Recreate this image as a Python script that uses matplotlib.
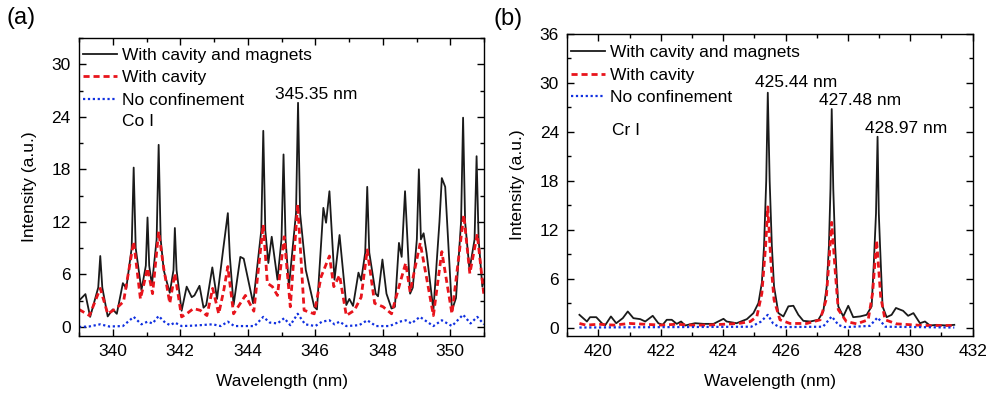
import matplotlib
matplotlib.use("Agg")
import matplotlib.pyplot as plt
from matplotlib.ticker import MultipleLocator

plt.rcParams['font.family'] = ['Liberation Sans', 'DejaVu Sans']

# panel (a) Co I
co_wl_mag = [339.0, 339.19, 339.33, 339.57, 339.63, 339.69, 339.85, 340.0, 340.12, 340.3, 340.4, 340.56, 340.62, 340.68,
             340.85, 340.98, 341.03, 341.08, 341.16, 341.3, 341.36, 341.42, 341.51, 341.59, 341.69, 341.8, 341.84, 341.89,
             342.04, 342.19, 342.34, 342.42, 342.57, 342.69, 342.77, 342.95, 343.09, 343.27, 343.41, 343.47, 343.58,
             343.78, 343.88, 344.16, 344.4, 344.46, 344.52, 344.61, 344.71, 344.88, 345.0, 345.06, 345.12, 345.22,
             345.43, 345.49, 345.55, 345.72, 345.97, 346.05, 346.24, 346.32, 346.42, 346.57, 346.72, 346.92, 347.01,
             347.12, 347.28, 347.36, 347.48, 347.54, 347.6, 347.79, 347.86, 347.99, 348.11, 348.26, 348.36, 348.48,
             348.56, 348.66, 348.81, 348.89, 349.01, 349.07, 349.13, 349.21, 349.3, 349.5, 349.68, 349.75, 349.85,
             350.05, 350.17, 350.32, 350.38, 350.44, 350.57, 350.72, 350.78, 350.84, 350.95, 351.0]
co_mag = [3.0, 3.75, 1.15, 4.5, 8.1, 4.5, 1.2, 2.0, 1.5, 5.0, 4.4, 9.0, 18.2, 9.0,
          4.2, 7.0, 12.5, 7.0, 4.8, 10.0, 20.8, 10.0, 6.5, 5.3, 3.9, 6.5, 11.3, 6.5,
          1.85, 4.6, 3.4, 3.6, 4.7, 2.2, 2.5, 6.8, 3.2, 8.8, 13.0, 8.0, 2.5,
          8.0, 7.8, 2.7, 11.0, 22.4, 11.0, 7.3, 10.3, 5.4, 10.0, 19.7, 10.0, 4.6,
          13.0, 25.6, 13.0, 6.5, 2.3, 2.0, 13.6, 11.9, 15.5, 5.4, 10.5, 2.5, 3.2,
          2.4, 6.2, 5.3, 8.5, 16.0, 8.5, 3.8, 3.5, 7.7, 3.8, 2.1, 2.3, 9.6,
          8.0, 15.5, 3.8, 4.5, 10.0, 18.0, 10.0, 10.7, 8.4, 1.9, 12.0, 17.0, 16.0,
          1.9, 3.3, 12.0, 23.9, 12.0, 6.5, 10.0, 19.5, 10.0, 4.6, 5.4]

co_wl_cav = [339.0, 339.31, 339.63, 339.85, 340.1, 340.32, 340.62, 340.82, 341.03, 341.18, 341.36, 341.51, 341.69,
             341.84, 342.04, 342.19, 342.39, 342.59, 342.79, 342.96, 343.14, 343.29, 343.41, 343.58, 343.78, 343.93,
             344.18, 344.46, 344.58, 344.73, 344.88, 345.08, 345.26, 345.48, 345.67, 345.97, 346.17, 346.42, 346.55,
             346.72, 346.92, 347.16, 347.36, 347.54, 347.76, 348.01, 348.26, 348.51, 348.68, 348.81, 349.11, 349.5,
             349.75, 350.05, 350.4, 350.58, 350.8, 351.0]
co_cav = [2.0, 1.3, 4.4, 1.5, 2.1, 2.9, 9.75, 3.2, 6.7, 3.8, 10.9, 6.7, 2.7,
          6.1, 1.15, 1.5, 2.1, 1.9, 1.3, 4.4, 1.5, 4.2, 6.9, 1.5, 2.7, 3.6,
          1.8, 11.7, 5.0, 4.6, 3.6, 10.3, 2.3, 14.0, 1.9, 1.5, 5.7, 8.1, 4.6,
          5.9, 1.3, 1.9, 3.4, 8.8, 2.7, 2.3, 1.5, 5.0, 7.3, 4.0, 9.6, 1.3,
          8.6, 1.5, 12.8, 6.1, 10.6, 3.5]

co_wl_none = [339.0, 339.3, 339.63, 339.9, 340.3, 340.62, 340.85, 341.03, 341.18, 341.36, 341.55, 341.7, 341.84, 342.04,
              342.4, 342.96, 343.2, 343.41, 343.6, 344.2, 344.46, 344.65, 344.88, 345.08, 345.26, 345.48, 345.7, 346.0,
              346.2, 346.42, 346.57, 346.72, 346.92, 347.3, 347.54, 347.8, 348.2, 348.5, 348.68, 348.85, 349.1, 349.5,
              349.75, 350.05, 350.38, 350.6, 350.8, 351.0]
co_none = [0.0, 0.05, 0.3, 0.05, 0.1, 1.15, 0.3, 0.6, 0.4, 1.25, 0.5, 0.2, 0.5, 0.1,
           0.15, 0.3, 0.1, 0.6, 0.1, 0.1, 1.15, 0.5, 0.4, 1.0, 0.2, 1.5, 0.3, 0.1,
           0.6, 0.76, 0.3, 0.6, 0.1, 0.2, 0.76, 0.1, 0.1, 0.6, 0.76, 0.4, 1.15, 0.1,
           0.76, 0.1, 1.4, 0.4, 1.15, 0.3]

# panel (b) Cr I
cr_wl_mag = [419.39, 419.63, 419.73, 419.93, 420.11, 420.21, 420.4, 420.57, 420.78, 420.94, 421.12, 421.34, 421.5,
             421.74, 421.92, 422.06, 422.19, 422.35, 422.51, 422.65, 422.78, 422.94, 423.1, 423.37, 423.69, 423.9,
             424.01, 424.11, 424.43, 424.76, 424.97, 425.13, 425.24, 425.31, 425.38, 425.43, 425.49, 425.56, 425.63,
             425.77, 425.93, 426.09, 426.25, 426.41, 426.57, 426.79, 427.05, 427.21, 427.32, 427.39, 427.44, 427.48,
             427.53, 427.59, 427.69, 427.85, 428.01, 428.17, 428.39, 428.6, 428.76, 428.83, 428.9, 428.95, 428.99,
             429.03, 429.11, 429.24, 429.4, 429.54, 429.67, 429.77, 429.93, 430.1, 430.31, 430.47, 430.63, 430.84,
             431.17, 431.41]
cr_mag = [1.56, 0.74, 1.27, 1.27, 0.53, 0.25, 1.36, 0.53, 1.15, 1.97, 1.15, 1.03, 0.74,
          1.44, 0.53, 0.33, 0.95, 0.95, 0.45, 0.74, 0.25, 0.4, 0.53, 0.45, 0.45, 0.86,
          1.07, 0.74, 0.53, 1.03, 1.77, 3.0, 5.5, 10.0, 18.0, 28.8, 18.0, 10.0, 5.05,
          1.77, 1.36, 2.6, 2.67, 1.56, 0.82, 0.74, 0.95, 1.97, 5.05, 10.0, 17.0, 26.8,
          17.0, 10.0, 2.6, 1.36, 2.67, 1.27, 1.36, 1.56, 2.6, 7.9, 14.0, 23.4, 14.0,
          10.0, 2.6, 1.27, 1.56, 2.4, 2.2, 2.05, 1.44, 1.77, 0.53, 0.74, 0.25, 0.33,
          0.25, 0.33]

cr_wl_cav = [419.39, 419.6, 420.0, 420.5, 421.0, 421.5, 422.0, 422.5, 423.0, 423.5, 424.0, 424.5, 424.87, 425.08,
             425.24, 425.36, 425.43, 425.53, 425.63, 425.82, 426.14, 426.68, 427.11, 427.3, 427.39, 427.48, 427.59,
             427.69, 427.95, 428.28, 428.65, 428.79, 428.92, 429.05, 429.19, 429.56, 430.42, 431.41]
cr_cav = [0.5, 0.3, 0.4, 0.3, 0.5, 0.4, 0.3, 0.4, 0.3, 0.3, 0.4, 0.5, 0.74, 1.36,
          4.2, 10.0, 14.8, 8.0, 3.4, 0.95, 0.5, 0.5, 0.95, 3.4, 8.0, 12.9, 7.0,
          2.2, 0.74, 0.45, 0.95, 4.2, 10.7, 3.8, 0.95, 0.45, 0.25, 0.25]

cr_wl_none = [419.39, 424.9, 425.2, 425.43, 425.6, 425.8, 427.2, 427.48, 427.7, 427.9, 428.7, 428.95, 429.2, 431.41]
cr_none = [0.0, 0.1, 0.7, 1.56, 0.5, 0.05, 0.1, 1.36, 0.3, 0.05, 0.2, 1.23, 0.1, 0.0]

labels = ["With cavity and magnets", "With cavity", "No confinement"]
fs = 12.5

fig = plt.figure(figsize=(9.9, 3.96), dpi=100)
ax1 = fig.add_axes([0.0798, 0.1523, 0.4091, 0.7517])
ax2 = fig.add_axes([0.573, 0.1523, 0.4095, 0.7618])


def draw(ax, wm, m, wc, c, wn, n, top):
  ax.plot(wm, m, color="#1a1a1a", lw=1.3, label=labels[0])
  ax.plot(wc, c, color="#e8141c", lw=2.0, ls=(0, (2.2, 1.4)), label=labels[1])
  ax.plot(wn, n, color="#1030e0", lw=1.6, ls=(0, (1, 1.2)), label=labels[2])
  ax.tick_params(which="both", direction="in", top=True, right=True, labelsize=fs, width=1.0)
  ax.tick_params(which="major", length=5, pad=6)
  ax.tick_params(which="minor", length=3)
  ax.xaxis.set_minor_locator(MultipleLocator(1))
  ax.yaxis.set_major_locator(MultipleLocator(6))
  ax.yaxis.set_minor_locator(MultipleLocator(3))
  for s in ax.spines.values():
    s.set_linewidth(1.0)
  ax.set_xlabel("Wavelength (nm)", fontsize=fs, labelpad=11)
  ax.set_ylabel("Intensity (a.u.)", fontsize=fs, labelpad=10.5)
  ax.legend(loc="upper left", bbox_to_anchor=(-0.003, top), frameon=False, fontsize=fs, handlelength=1.95,
            handletextpad=0.3, labelspacing=0.42, borderpad=0.1, borderaxespad=0.2)


draw(ax1, co_wl_mag, co_mag, co_wl_cav, co_cav, co_wl_none, co_none, 0.985)
ax1.set_xlim(339, 351)
ax1.set_ylim(-1, 33)
ax1.xaxis.set_major_locator(MultipleLocator(2))
ax1.text(0.106, 0.718, "Co I", transform=ax1.transAxes, fontsize=fs, ha="left", va="center")
ax1.text(346.04, 26.6, "345.35 nm", fontsize=fs, ha="center", va="center")

draw(ax2, cr_wl_mag, cr_mag, cr_wl_cav, cr_cav, cr_wl_none, cr_none, 0.98)
ax2.set_xlim(419, 432)
ax2.set_ylim(-1, 36)
ax2.xaxis.set_major_locator(MultipleLocator(2))
ax2.text(420.43, 24.2, "Cr I", fontsize=fs, ha="left", va="center")
ax2.text(426.33, 30.1, "425.44 nm", fontsize=fs, ha="center", va="center")
ax2.text(428.38, 27.9, "427.48 nm", fontsize=fs, ha="center", va="center")
ax2.text(429.85, 24.4, "428.97 nm", fontsize=fs, ha="center", va="center")

fig.text(0.007, 0.955, "(a)", fontsize=17, ha="left", va="center")
fig.text(0.498, 0.952, "(b)", fontsize=17, ha="left", va="center")

fig.savefig("out.png", dpi=100)
